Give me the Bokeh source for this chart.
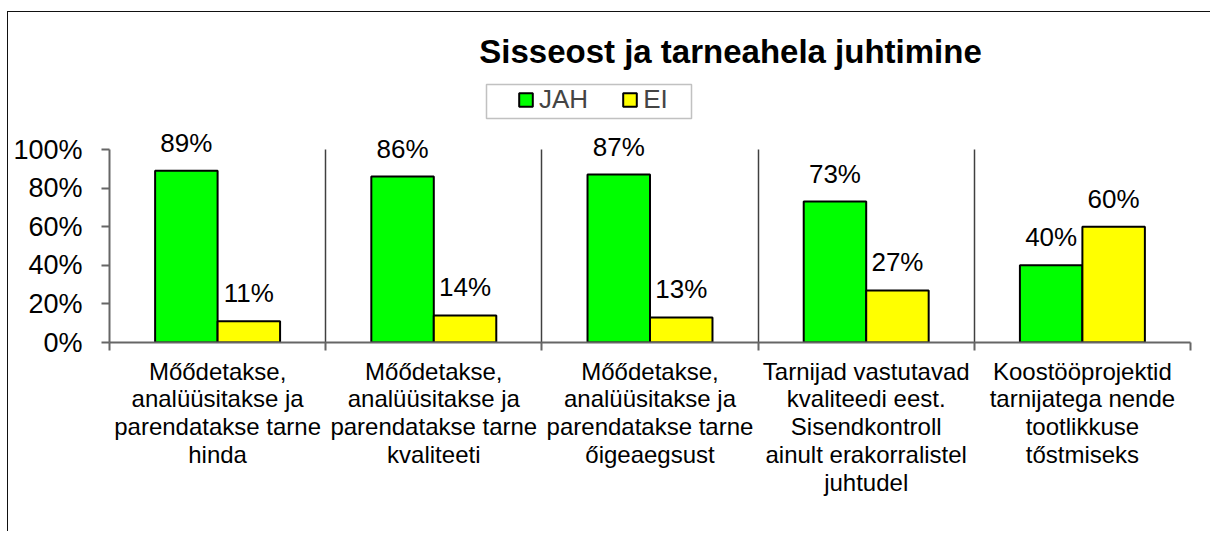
from bokeh.plotting import figure
from bokeh.models import (ColumnDataSource, Range1d, FixedTicker, NumeralTickFormatter,
                          LabelSet, Label, Legend, LegendItem, BoxAnnotation)
from bokeh.core.properties import value
from bokeh.transform import dodge
from bokeh.embed import file_html
from bokeh.resources import INLINE

# ---- data ----
categories = [
    "Mőődetakse,\nanalüüsitakse ja\nparendatakse tarne\nhinda",
    "Mőődetakse,\nanalüüsitakse ja\nparendatakse tarne\nkvaliteeti",
    "Mőődetakse,\nanalüüsitakse ja\nparendatakse tarne\nőigeaegsust",
    "Tarnijad vastutavad\nkvaliteedi eest.\nSisendkontroll\nainult erakorralistel\njuhtudel",
    "Koostööprojektid\ntarnijatega nende\ntootlikkuse\ntőstmiseks",
]
jah = [0.89, 0.86, 0.87, 0.73, 0.40]
ei = [0.11, 0.14, 0.13, 0.27, 0.60]
series_names = ["JAH", "EI"]
y_ticks = [0, 0.2, 0.4, 0.6, 0.8, 1.0]
title_text = "Sisseost ja tarneahela juhtimine"

FONT = "Liberation Sans"
n = len(categories)
pos = [i + 0.5 for i in range(n)]
src = ColumnDataSource(dict(
    x=pos, jah=jah, ei=ei,
    jah_lbl=[f"{round(v * 100)}%" for v in jah],
    ei_lbl=[f"{round(v * 100)}%" for v in ei],
))

W, H = 1203, 520
MB_BOTTOM = 190
PX_PER_UNIT = 193          # pixel height of 0..100 %
frame_h = H - MB_BOTTOM
p = figure(width=W, height=H, x_range=Range1d(0, n),
           y_range=Range1d(0, frame_h / PX_PER_UNIT),
           output_backend="svg", toolbar_location=None,
           min_border_left=101, min_border_right=21,
           min_border_top=0, min_border_bottom=MB_BOTTOM)
p.outline_line_color = None
p.background_fill_color = "white"
p.border_fill_color = "white"
p.styles = {"margin-left": "7px", "margin-top": "11px",
            "border-left": "1px solid #111111", "border-top": "1px solid #111111"}

BW = 0.289
r1 = p.vbar(x=dodge("x", -BW / 2), top="jah", width=BW, source=src,
            fill_color="#00FF00", line_color="black", line_width=2)
r2 = p.vbar(x=dodge("x", BW / 2), top="ei", width=BW, source=src,
            fill_color="#FFFF00", line_color="black", line_width=2)

# x axis
xa = p.xaxis[0]
xa.ticker = FixedTicker(ticks=pos, minor_ticks=list(range(n + 1)))
xa.major_label_overrides = {pp: c for pp, c in zip(pos, categories)}
xa.major_tick_out = 0
xa.major_tick_in = 0
xa.minor_tick_out = 8
xa.minor_tick_in = 0
xa.minor_tick_line_color = "#666666"
xa.minor_tick_line_width = 2
xa.axis_line_color = "#666666"
xa.axis_line_width = 2
xa.major_label_text_font = FONT
xa.major_label_text_font_size = "24px"
xa.major_label_text_color = "black"
xa.major_label_text_line_height = 1.03
xa.major_label_standoff = 7

# y axis
ya = p.yaxis[0]
ya.ticker = FixedTicker(ticks=y_ticks, minor_ticks=[])
ya.formatter = NumeralTickFormatter(format="0%")
ya.bounds = (0, 1)
ya.major_tick_out = 8
ya.major_tick_in = 0
ya.major_tick_line_color = "#666666"
ya.major_tick_line_width = 2
ya.axis_line_color = "#666666"
ya.axis_line_width = 2
ya.major_label_text_font = FONT
ya.major_label_text_font_size = "27px"
ya.major_label_text_color = "black"
ya.major_label_standoff = 19

# grid: vertical separators between categories
p.ygrid.grid_line_color = None
p.xgrid.ticker = FixedTicker(ticks=list(range(1, n + 1)))
p.xgrid.cross_bounds = (0, 1)
p.xgrid.grid_line_color = "#404040"
p.xgrid.grid_line_width = 1.5

# value labels
for col, lbl, off in (("jah", "jah_lbl", -BW / 2), ("ei", "ei_lbl", BW / 2)):
    p.add_layout(LabelSet(x=dodge("x", off), y=col, text=lbl, source=src,
                          y_offset=19, text_align="center", text_baseline="alphabetic",
                          text_font=value(FONT), text_font_size=value("26px"),
                          text_color="black"))

# legend
legend = Legend(items=[LegendItem(label=series_names[0], renderers=[r1]),
                       LegendItem(label=series_names[1], renderers=[r2])],
                orientation="horizontal", location=(408, 227), padding=0, margin=0,
                spacing=33, label_standoff=5, glyph_width=17, glyph_height=17,
                label_height=30, label_text_font=FONT, label_text_font_size="26px",
                border_line_color=None, background_fill_alpha=0)
p.add_layout(legend, "center")
p.add_layout(BoxAnnotation(left=477, right=682, top=71, bottom=105,
                           left_units="canvas", right_units="canvas",
                           top_units="canvas", bottom_units="canvas",
                           fill_alpha=0, line_color="#333333", line_width=1.5))

# title
p.add_layout(Label(x=621, y=291, x_units="screen", y_units="screen", text=title_text,
                   text_align="center", text_baseline="alphabetic",
                   text_font=FONT, text_font_size="33px", text_font_style="bold",
                   text_color="black"))

open("out.html", "w").write(file_html(p, INLINE))
